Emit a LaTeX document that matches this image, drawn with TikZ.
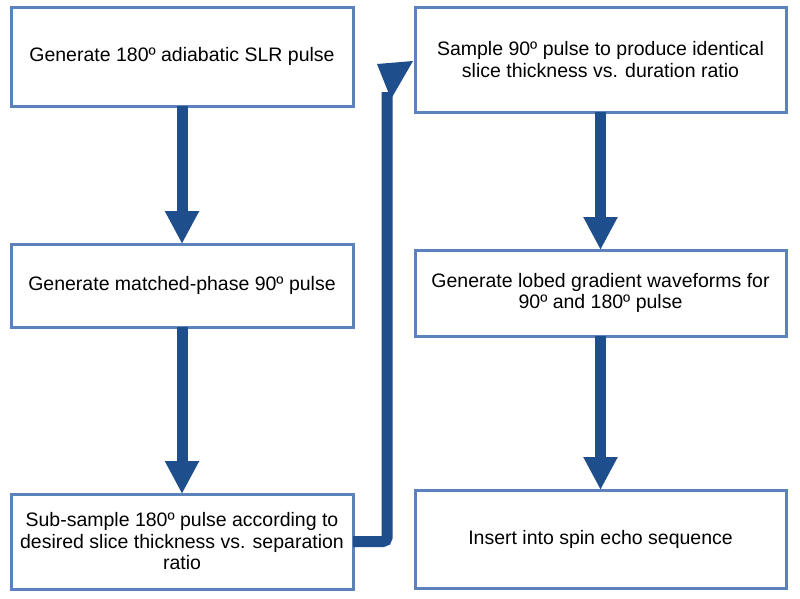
\documentclass[tikz,border=0pt]{standalone}
\usepackage{fontspec}
\setmainfont{Liberation Sans}
\usetikzlibrary{arrows.meta}
\definecolor{boxline}{HTML}{5B82BB}
\definecolor{arrowblue}{HTML}{1F4E8C}
\begin{document}
\begin{tikzpicture}[x=1pt,y=-1pt,
  box/.style={draw=boxline, line width=3pt, fill=white, rectangle, outer sep=0pt,
    align=center, font=\fontsize{19.5}{21.5}\selectfont, inner sep=0pt},
  flow/.style={draw=arrowblue, line width=11pt,
    -{Triangle[width=32pt,length=33pt]}, shorten >=0pt},
  elbow/.style={draw=arrowblue, line width=11pt, rounded corners=4pt}]
\useasboundingbox[fill=white] (0,0) rectangle (800,598);
\node[box, minimum width=342pt, minimum height=99pt] (b1) at (182,56.5) {Generate 180º adiabatic SLR pulse};
\node[box, minimum width=342pt, minimum height=83pt] (b2) at (182,285.5) {Generate matched-phase 90º pulse};
\node[box, minimum width=342pt, minimum height=95pt] (b3) at (182,541.5) {Sub-sample 180º pulse according to\\desired slice thickness vs. separation\\ratio};
\node[box, minimum width=371pt, minimum height=105pt] (b4) at (600.5,59.5) {Sample 90º pulse to produce identical\\slice thickness vs. duration ratio};
\node[box, minimum width=371pt, minimum height=86pt] (b5) at (600.5,293) {Generate lobed gradient waveforms for\\90º and 180º pulse};
\node[box, minimum width=371pt, minimum height=98pt] (b6) at (600.5,539) {Insert into spin echo sequence};
\draw[flow] (b1.south) -- (b2.north);
\draw[flow] (b2.south) -- (b3.north);
\draw[flow] (b4.south) -- (b5.north);
\draw[flow] (b5.south) -- (b6.north);
\coordinate (elbowtop) at (387,92);
\coordinate (hl) at (377,64);
\coordinate (hr) at (413,61);
\coordinate (hb) at (391,99);
\draw[elbow] (b3.east) -| (elbowtop);
\fill[arrowblue] (hl) -- (hr) -- (hb) -- cycle;
\end{tikzpicture}
\end{document}
